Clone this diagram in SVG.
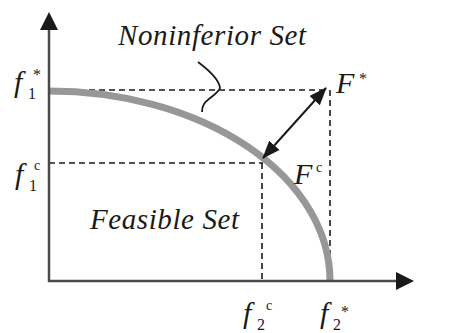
<svg xmlns="http://www.w3.org/2000/svg" width="459" height="333" viewBox="0 0 459 333">
<style>
text{font-family:'Liberation Serif','Times New Roman',serif;fill:#1a1a1a}
.lbl{font-style:italic}
.axis{stroke:#4a4a4a;stroke-width:2.5;fill:none}
.dash{stroke:#1a1a1a;stroke-width:1.6;stroke-dasharray:6 4;fill:none}
</style>
<defs>
<marker id="axhead" viewBox="0 0 18 18" refX="2" refY="9" markerWidth="18" markerHeight="18" markerUnits="userSpaceOnUse" orient="auto">
<path d="M0,0 L18,9 L0,18 Z" fill="#1a1a1a"/>
</marker>
<marker id="dblhead" viewBox="0 0 18 14" refX="17" refY="7" markerWidth="18" markerHeight="14" markerUnits="userSpaceOnUse" orient="auto-start-reverse">
<path d="M0,0 L18,7 L0,14 Z" fill="#1a1a1a"/>
</marker>
</defs>
<rect width="459" height="333" fill="#ffffff"/>
<g id="connectors">
<line class="dash" x1="49" y1="90" x2="327" y2="90"/>
<line class="dash" x1="330" y1="90" x2="330" y2="281"/>
<line class="dash" x1="49" y1="163" x2="263" y2="163"/>
<line class="dash" x1="262" y1="163" x2="262" y2="281"/>
<path d="M49,91 A281,190 0 0 1 330,281" stroke="#979797" stroke-width="7" fill="none"/>
<line class="axis" x1="49" y1="282" x2="49" y2="28" marker-end="url(#axhead)"/>
<line class="axis" x1="48" y1="281" x2="398" y2="281" marker-end="url(#axhead)"/>
<line x1="263" y1="158" x2="326" y2="88" stroke="#1a1a1a" stroke-width="2" marker-start="url(#dblhead)" marker-end="url(#dblhead)"/>
<path d="M198,62 C206,68 219,78 220,88 C218,94 208,98 204,104 C202,107 202,110 202,112" stroke="#1a1a1a" stroke-width="1.8" fill="none"/>
</g>
<g id="noninferior-label"><text class="lbl" x="118" y="45" font-size="29" textLength="188" lengthAdjust="spacing">Noninferior Set</text></g>
<g id="feasible-label"><text class="lbl" x="90" y="229" font-size="29" textLength="149" lengthAdjust="spacing">Feasible Set</text></g>
<g id="f1star"><text class="lbl" x="14" y="92" font-size="30">f</text><text x="28" y="99" font-size="16">1</text><text x="33" y="80" font-size="16">*</text></g>
<g id="f1c"><text class="lbl" x="15" y="184" font-size="30">f</text><text x="29" y="191" font-size="16">1</text><text x="34" y="170" font-size="14">c</text></g>
<g id="f2c"><text class="lbl" x="243" y="323" font-size="30">f</text><text x="257" y="330" font-size="16">2</text><text x="266" y="310" font-size="14">c</text></g>
<g id="f2star"><text class="lbl" x="320" y="323" font-size="30">f</text><text x="333" y="330" font-size="16">2</text><text x="341" y="317" font-size="16">*</text></g>
<g id="Fstar"><text class="lbl" x="336" y="93" font-size="30">F</text><text x="359" y="84" font-size="16">*</text></g>
<g id="Fc"><text class="lbl" x="294" y="184" font-size="30">F</text><text x="316" y="172" font-size="14">c</text></g>
</svg>
